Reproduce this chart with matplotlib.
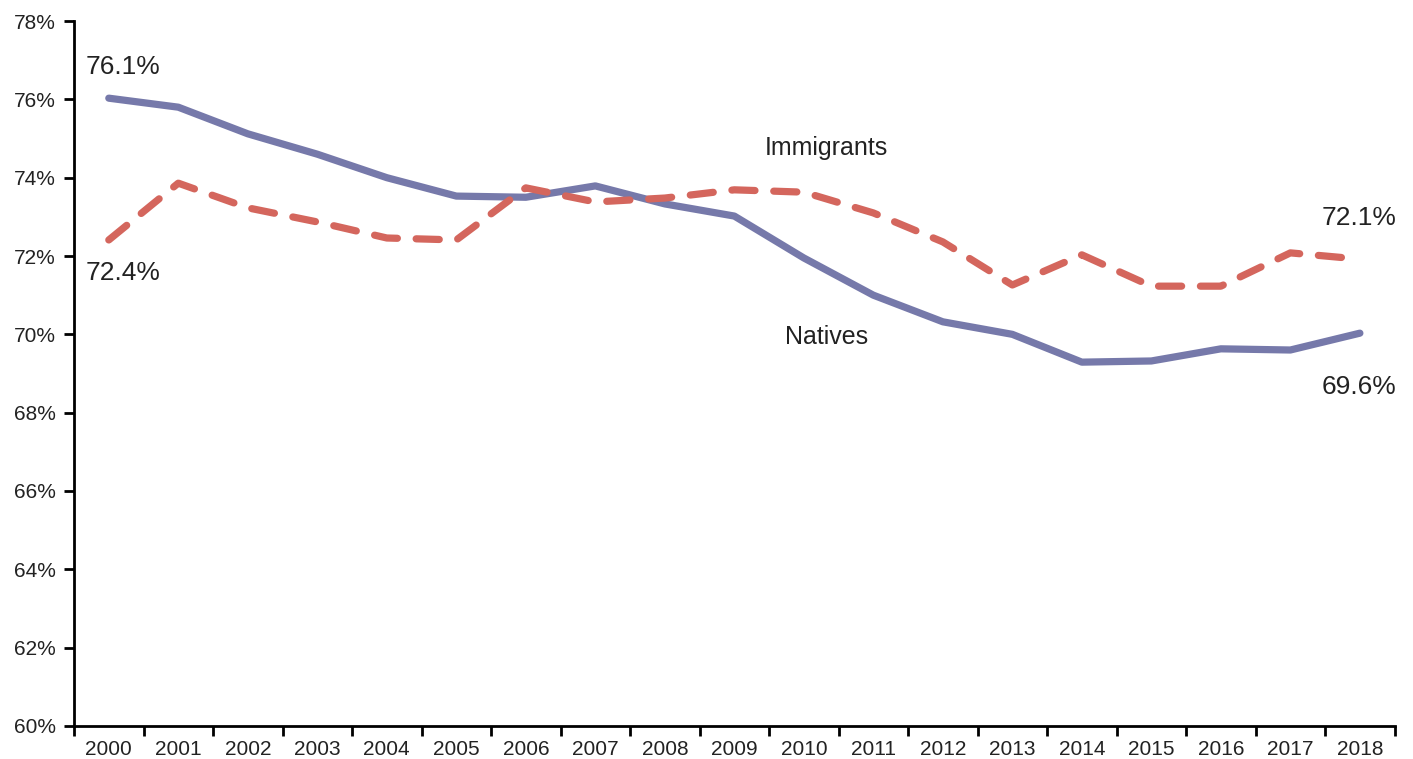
import numpy as np
import matplotlib.pyplot as plt
import matplotlib.ticker as mticker

plt.rcParams['font.family'] = ['Liberation Sans', 'DejaVu Sans']

# ── DATA ─────────────────────────────────────────────────────────────────
years = [str(y) for y in range(2000, 2019)]
natives = [76.03, 75.80, 75.12, 74.60, 74.00, 73.53, 73.50, 73.79, 73.33, 73.02,
           71.95, 71.00, 70.32, 70.00, 69.29, 69.32, 69.63, 69.60, 70.03]
immigrants = [72.41, 73.86, 73.23, 72.87, 72.46, 72.41, 73.74, 73.38, 73.48, 73.69,
              73.63, 73.10, 72.36, 71.26, 72.03, 71.23, 71.23, 72.08, 71.92]

NAT_COL = '#7679aa'
IMM_COL = '#d4665d'
TXT = '#222222'

fig = plt.figure(figsize=(14.13, 7.59), dpi=100, facecolor='white')
ax = fig.add_axes([0.0524, 0.0435, 0.9346, 0.9288])

x = np.arange(len(years))
ax.plot(x, natives, color=NAT_COL, lw=5.2, solid_capstyle='round', solid_joinstyle='round', zorder=3)
ax.plot(x, immigrants, color=IMM_COL, lw=5.2, dashes=(3.2, 2.6), dash_capstyle='round',
        dash_joinstyle='round', zorder=4)

ax.set_xlim(-0.5, len(years) - 0.5)
ax.set_ylim(60, 78)
ax.yaxis.set_major_locator(mticker.MultipleLocator(2))
ax.yaxis.set_major_formatter(mticker.FuncFormatter(lambda v, _: f'{v:.0f}%'))

# category labels centered, ticks between categories
ax.set_xticks(x)
ax.set_xticklabels(years)
ax.set_xticks(np.arange(-0.5, len(years), 1), minor=True)
ax.tick_params(axis='x', which='major', length=0, labelsize=15, pad=10, colors=TXT)
ax.tick_params(axis='x', which='minor', length=7, width=2, direction='out', color='black')
ax.tick_params(axis='y', length=7, width=2, direction='out', labelsize=15, pad=6,
               color='black', labelcolor=TXT)

for side in ['top', 'right']:
    ax.spines[side].set_visible(False)
for side in ['left', 'bottom']:
    ax.spines[side].set_linewidth(2)

# annotations
ax.text(-0.34, 76.83, '76.1%', fontsize=19, color=TXT, ha='left', va='center')
ax.text(-0.34, 71.57, '72.4%', fontsize=19, color=TXT, ha='left', va='center')
ax.text(18.52, 72.97, '72.1%', fontsize=19, color=TXT, ha='right', va='center')
ax.text(18.52, 68.66, '69.6%', fontsize=19, color=TXT, ha='right', va='center')
ax.text(10.32, 74.76, 'Immigrants', fontsize=18, color=TXT, ha='center', va='center')
ax.text(10.32, 69.93, 'Natives', fontsize=18, color=TXT, ha='center', va='center')

plt.savefig('out.png', dpi=100, facecolor='white')
